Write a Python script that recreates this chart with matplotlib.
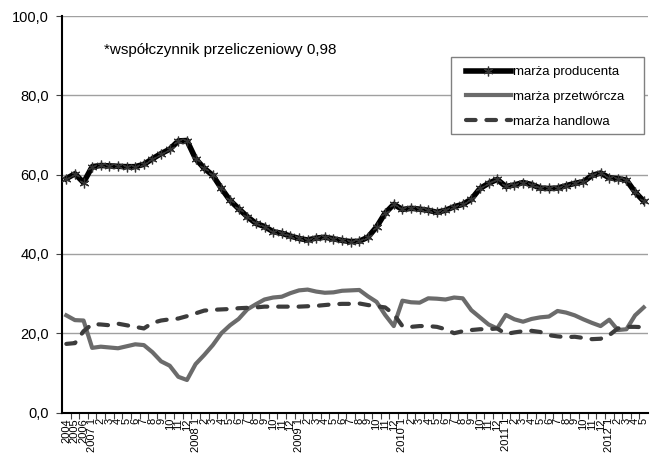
import matplotlib
matplotlib.use("Agg")
import matplotlib.pyplot as plt
from matplotlib.lines import Line2D
from matplotlib.patches import Rectangle

plt.rcParams['font.family'] = ['Liberation Sans', 'DejaVu Sans']

# categories: annual values 2004-2006, then monthly 2007-1 ... 2012-5
years_annual = ["2004", "2005", "2006"]
monthly_years = [2007, 2008, 2009, 2010, 2011, 2012]
months_in_year = [12, 12, 12, 12, 12, 5]

labels = list(years_annual)
for yr, n in zip(monthly_years, months_in_year):
    for m in range(1, n + 1):
        labels.append(f"{yr} {m}" if m == 1 else str(m))

producer = [59.0, 60.2, 58.0, 62.0, 62.3, 62.2, 62.1, 62.0, 62.0, 62.6,
            64.0, 65.3, 66.4, 68.5, 68.6, 64.0, 61.6, 59.8, 56.5, 53.5,
            51.4, 49.4, 47.7, 46.9, 45.6, 45.2, 44.5, 43.9, 43.5, 44.0,
            44.2, 43.8, 43.4, 43.1, 43.2, 44.2, 46.8, 50.3, 52.5, 51.2,
            51.5, 51.3, 51.0, 50.5, 51.0, 51.9, 52.5, 53.8, 56.5, 57.8,
            58.8, 57.0, 57.4, 58.0, 57.5, 56.6, 56.5, 56.6, 57.2, 57.8,
            58.2, 59.8, 60.4, 59.2, 59.0, 58.6, 55.6, 53.3]

processing = [24.5, 23.3, 23.2, 16.3, 16.6, 16.4, 16.2, 16.7, 17.2, 17.0,
              15.2, 12.9, 11.8, 9.0, 8.2, 12.2, 14.5, 17.0, 20.0, 22.0,
              23.6, 26.0, 27.3, 28.5, 29.0, 29.2, 30.1, 30.8, 31.0, 30.5,
              30.2, 30.3, 30.7, 30.8, 30.9, 29.3, 27.9, 24.6, 21.8, 28.2,
              27.8, 27.7, 28.8, 28.7, 28.5, 29.0, 28.8, 25.8, 24.0, 22.2,
              21.2, 24.6, 23.5, 22.9, 23.6, 24.0, 24.2, 25.6, 25.2, 24.5,
              23.5, 22.6, 21.8, 23.4, 20.8, 21.0, 24.5, 26.5]

trade = [17.3, 17.5, 20.5, 22.3, 22.2, 22.0, 22.4, 22.0, 21.6, 21.2,
         22.6, 23.2, 23.5, 23.7, 24.3, 25.0, 25.7, 25.9, 26.0, 26.1,
         26.3, 26.4, 26.5, 26.7, 26.7, 26.7, 26.7, 26.7, 26.8, 26.9,
         27.1, 27.3, 27.4, 27.4, 27.5, 27.1, 26.8, 26.5, 24.8, 21.8,
         21.6, 21.8, 21.8, 21.6, 21.0, 20.0, 20.5, 20.8, 21.0, 21.0,
         21.2, 19.8, 20.2, 20.5, 20.6, 20.3, 19.5, 19.2, 19.0, 19.1,
         18.8, 18.5, 18.6, 19.5, 21.2, 21.6, 21.6, 21.5]

W, H = 652, 461
fig = plt.figure(figsize=(W / 100, H / 100), dpi=100)
ax = fig.add_axes([62 / W, 48.5 / H, (648 - 62) / W, (412.5 - 16) / H])

x = list(range(len(labels)))

ax.plot(x, processing, color="#6b6b6b", lw=3.0, solid_joinstyle="round", zorder=3)
ax.plot(x, trade, color="#3c3c3c", lw=3.0, dashes=(2.3, 2.6),
        dash_capstyle="round", zorder=4)
ax.plot(x, producer, color="black", lw=4.0, marker=(6, 2, 0), markersize=7,
        markeredgewidth=0.9, markeredgecolor="#333333", zorder=5)

ax.set_xlim(-0.5, len(labels) - 0.5)
ax.set_ylim(0, 100)

ax.set_yticks([0, 20, 40, 60, 80, 100])
ax.set_yticklabels(["0,0", "20,0", "40,0", "60,0", "80,0", "100,0"], fontsize=10.5)
ax.yaxis.grid(True, color="#a0a0a0", lw=1.0)
ax.set_axisbelow(True)

ax.set_xticks(x)
ax.set_xticklabels(labels, rotation=90, fontsize=8)
ax.set_xticks([i + 0.5 for i in x[:-1]], minor=True)
ax.tick_params(axis="x", which="major", length=0, pad=4)
ax.tick_params(axis="x", which="minor", length=4, width=0.8, color="#444444")
ax.tick_params(axis="y", length=4.5, width=0.8, color="#444444", pad=5)

for side in ["top", "right"]:
    ax.spines[side].set_visible(False)
ax.spines["left"].set_linewidth(1.5)
ax.spines["bottom"].set_linewidth(1.5)

fig.text(104 / W, 1 - 50 / H, "*współczynnik przeliczeniowy 0,98",
         fontsize=11, va="center", ha="left")

# legend
fig.patches.append(Rectangle((451 / W, 1 - 134 / H), (644 - 451) / W, (134 - 57) / H,
                             transform=fig.transFigure, facecolor="white",
                             edgecolor="#808080", lw=1.0, zorder=6))
handles = [
    Line2D([], [], color="black", lw=4.0, marker=(6, 2, 0), markersize=7,
           markeredgewidth=0.9, markeredgecolor="#333333", markevery=[1]),
    Line2D([], [], color="#6b6b6b", lw=3.0),
    Line2D([], [], color="#3c3c3c", lw=3.0, dashes=(2.3, 2.6), dash_capstyle="round"),
]
leg = fig.legend(handles, ["marża producenta", "marża przetwórcza", "marża handlowa"],
                 loc="upper left", bbox_to_anchor=(466 / W, 1 - 66 / H),
                 frameon=False, fontsize=9.5, handlelength=3.4, handletextpad=0.15,
                 labelspacing=0.95, borderpad=0, borderaxespad=0)
leg.set_zorder(7)

fig.savefig("out.png", dpi=100)
